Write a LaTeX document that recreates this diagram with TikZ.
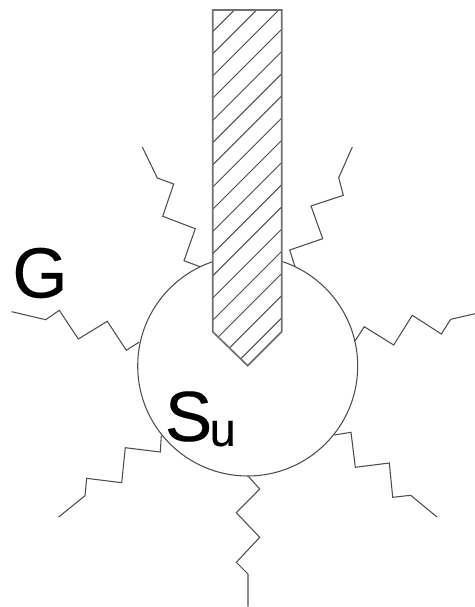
\documentclass[tikz,border=0pt]{standalone}
\usepackage{fontspec}
\setmainfont[FakeBold=0.25]{Liberation Sans}
\definecolor{inkline}{gray}{0.3}
\tikzset{
  thinline/.style={draw=inkline,line width=0.6pt,line join=miter},
  barline/.style={draw=inkline!80,line width=0.95pt,line join=miter},
  hatchline/.style={draw=inkline,line width=0.55pt},
  biglabel/.style={inner sep=0pt,anchor=base west,text=black,font=\fontsize{40.5}{41}\selectfont}
}
\begin{document}
\begin{tikzpicture}[x=0.02cm,y=-0.02cm]
\useasboundingbox (0,0) rectangle (475,607);
% grain
\coordinate (c) at (247.7,366);
\draw[thinline] (c) circle[radius=110];
% zigzag lines
\draw[thinline] (142.3,147)--(157.3,178)--(173.7,184)--(162.7,216.3)--(195.3,228.7)--(184,260.7)--(200,266.7);
\draw[thinline] (352.3,147)--(338.7,177.7)--(343.3,195.3)--(311,206)--(322.7,238.7)--(289.7,250)--(295,266.7);
\draw[thinline] (11.7,311.7)--(45.7,319.7)--(59.3,310.3)--(78.3,339)--(107.3,321.3)--(126.3,350.3)--(139.3,342);
\draw[thinline] (58.7,517)--(85,495.7)--(86.7,478.3)--(121.7,482.7)--(125.3,447.7)--(160.3,452)--(161.3,435.7);
\draw[thinline] (355,341)--(364.3,326.7)--(393.7,345)--(412.3,315.3)--(441.3,334)--(450.7,319.3)--(475,313.7);
\draw[thinline] (334.3,435)--(351,432.3)--(355.3,467.3)--(389.3,463)--(392.7,497.3)--(410.7,495.3)--(437,517);
\draw[thinline] (248,476)--(259.7,489)--(236.3,512.7)--(259.7,537.3)--(236.3,562.3)--(248,574)--(248,606.7);
% indenter
\fill[white] (212.7,10)--(281.7,10)--(281.7,331.7)--(247.7,365.7)--(212.7,331.7)--cycle;
\begin{scope}
\clip (212.7,10)--(281.7,10)--(281.7,331.7)--(247.7,365.7)--(212.7,331.7)--cycle;
\foreach \k in {0,...,16}{
  \draw[hatchline] (212.7,{31.7+22.2*\k})--(281.7,{31.7+22.2*\k-69});
}
\end{scope}
\draw[barline] (212.7,10)--(281.7,10)--(281.7,331.7)--(247.7,365.7)--(212.7,331.7)--cycle;
% labels
\node[biglabel] (g) at (12,297.5) {G};
\node[biglabel] (su) at (164.5,441) {S\kern-1.6pt\raisebox{-2.8pt}{\fontsize{27}{27}\selectfont u}};
\end{tikzpicture}
\end{document}
